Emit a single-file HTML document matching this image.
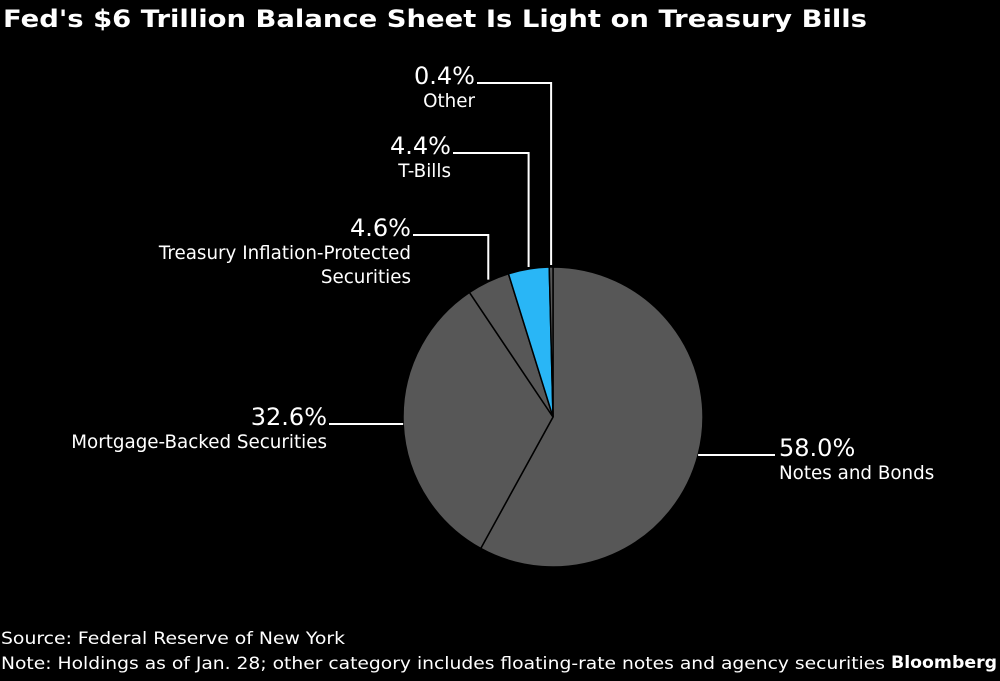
<!DOCTYPE html>
<html><head><meta charset="utf-8"><style>
body{margin:0;background:#000;width:1000px;height:677px;overflow:hidden;font-family:"DejaVu Sans","Liberation Sans",sans-serif;color:#fff}
svg text{font-family:"DejaVu Sans","Liberation Sans",sans-serif}
</style></head><body>
<svg width="1000" height="677" xmlns="http://www.w3.org/2000/svg">
<text x="3" y="27" font-size="24" font-weight="bold" fill="#fff" textLength="864" lengthAdjust="spacingAndGlyphs">Fed's $6 Trillion Balance Sheet Is Light on Treasury Bills</text>
<g id="pie"></g>
<g id="labels"></g>
<text x="1" y="644" font-size="17" fill="#fff" textLength="344" lengthAdjust="spacingAndGlyphs">Source: Federal Reserve of New York</text>
<text x="1" y="669" font-size="17" fill="#fff" textLength="884" lengthAdjust="spacingAndGlyphs">Note: Holdings as of Jan. 28; other category includes floating-rate notes and agency securities</text>
<text x="891" y="668" font-size="17" font-weight="bold" fill="#fff" textLength="106" lengthAdjust="spacingAndGlyphs">Bloomberg</text>
</svg>
<script>
const categories=["Notes and Bonds","Mortgage-Backed Securities","Treasury Inflation-Protected Securities","T-Bills","Other"];
const values=[58.0,32.6,4.6,4.4,0.4];
const colors=["#575757","#575757","#575757","#29b6f6","#575757"];
const cx=553,cy=417,r=150,NS="http://www.w3.org/2000/svg";
const pie=document.getElementById('pie'),lab=document.getElementById('labels');
const total=values.reduce((a,b)=>a+b,0);
function pt(a,rr){return [cx+rr*Math.sin(a),cy-rr*Math.cos(a)];}
function mk(t,attrs,parent){const e=document.createElementNS(NS,t);for(const k in attrs)e.setAttribute(k,attrs[k]);parent.appendChild(e);return e;}
let acc=0;const mids=[];
values.forEach((v,i)=>{
 const a0=acc/total*2*Math.PI;acc+=v;const a1=acc/total*2*Math.PI;
 const p0=pt(a0,r),p1=pt(a1,r);const large=(a1-a0)>Math.PI?1:0;
 const p=mk('path',{d:`M${cx},${cy}L${p0[0]},${p0[1]}A${r},${r} 0 ${large} 1 ${p1[0]},${p1[1]}Z`,fill:colors[i],stroke:'#000','stroke-width':1.5},pie);
 
 
 mids.push((a0+a1)/2);
});
const layout=[
 {x:779,y:455,anchor:'start',names:["Notes and Bonds"]},
 {x:327,y:424,anchor:'end',names:["Mortgage-Backed Securities"]},
 {x:411,y:235,anchor:'end',names:["Treasury Inflation-Protected","Securities"]},
 {x:451,y:153,anchor:'end',names:["T-Bills"]},
 {x:475,y:83,anchor:'end',names:["Other"]}
];
layout.forEach((L,i)=>{
 const m=mids[i];let pts;
 if(i<2){
   const ex=i==0?cx+Math.sqrt(Math.max(0,r*r-(L.y-cy)**2)):cx-Math.sqrt(Math.max(0,r*r-(L.y-cy)**2));
   pts=`${ex},${L.y} ${i==0?L.x-4:L.x+2},${L.y}`;}
 else{const e=pt(m,r);const vx=e[0];const vy=cy-Math.sqrt(Math.max(0,r*r-(vx-cx)**2))-2;
   pts=`${L.x+2},${L.y} ${vx},${L.y} ${vx},${vy}`;}
 const pl=mk('polyline',{points:pts,fill:'none',stroke:'#fff','stroke-width':2},lab);
 
 
 const t=mk('text',{x:L.x,y:L.y+1,'font-size':24,fill:'#fff','text-anchor':L.anchor},lab);
 t.textContent=values[i].toFixed(1)+'%';
 
 
 L.names.forEach((n,j)=>{const tn=mk('text',{x:L.x,y:L.y+24+j*24,'font-size':18.3,fill:'#fff','text-anchor':L.anchor},lab);
  tn.textContent=n;
  
  });
});
</script>
</body></html>
